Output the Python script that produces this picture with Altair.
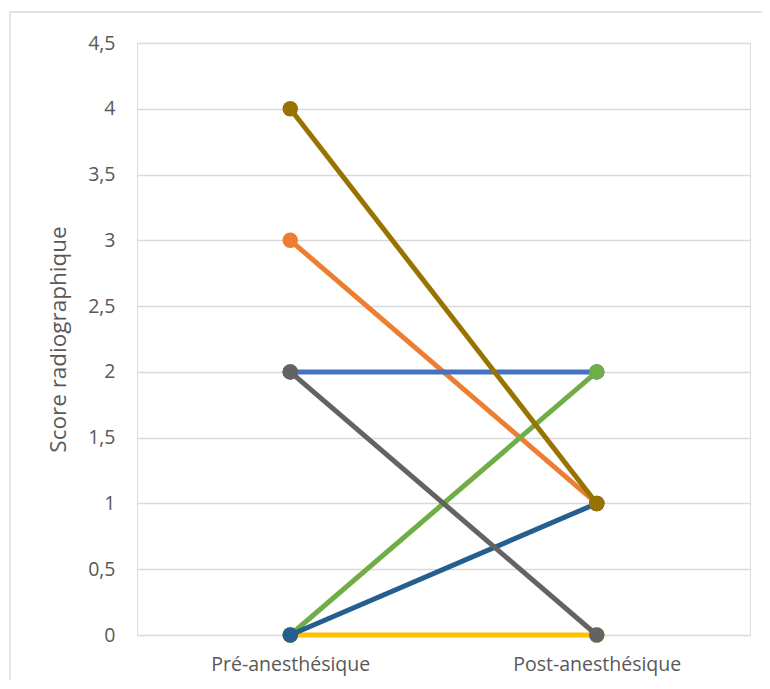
import altair as alt
import pandas as pd

phases = ["Pré-anesthésique", "Post-anesthésique"]
series = ["Série 2", "Série 1", "Série 4", "Série 6", "Série 11", "Série 9", "Série 10"]
pre_scores = [3, 2, 0, 0, 0, 2, 4]
post_scores = [1, 2, 0, 2, 1, 0, 1]
colors = ["#ED7D31", "#4472C4", "#FFC000", "#70AD47", "#255E91", "#636363", "#997300"]
y_ticks = [0, 0.5, 1, 1.5, 2, 2.5, 3, 3.5, 4, 4.5]

rows = []
for i, s in enumerate(series):
    rows.append({"serie": s, "phase": phases[0], "score": pre_scores[i], "ordre": i})
    rows.append({"serie": s, "phase": phases[1], "score": post_scores[i], "ordre": i})
df = pd.DataFrame(rows)

W, H = 613, 592
FONT = "Open Sans"
TXT = "#595959"

x_enc = alt.X("phase:N", sort=phases,
              scale=alt.Scale(type="point", padding=0.5, domain=phases),
              axis=alt.Axis(title=None, labelAngle=0, domain=False, ticks=False,
                            labelPadding=20, labelFontSize=19.5, labelColor=TXT,
                            labelFont=FONT, grid=False))
y_enc = alt.Y("score:Q",
              scale=alt.Scale(domain=[0, 4.5], nice=False),
              axis=alt.Axis(title="Score radiographique", values=y_ticks,
                            labelExpr="replace(toString(datum.value), '.', ',')",
                            domain=False, ticks=False, labelPadding=22,
                            labelFontSize=19.5, labelColor=TXT, labelFont=FONT,
                            titleFontSize=22.5, titleColor=TXT, titleFont=FONT,
                            titleFontWeight="normal", titlePadding=17,
                            gridColor="#d9d9d9", gridWidth=1.3))
color_scale = alt.Scale(domain=series, range=colors)

border = alt.Chart(pd.DataFrame({"a": [0]})).mark_rect(
    fill=None, stroke="#d9d9d9", strokeWidth=1.3, clip=False
).encode(x=alt.value(10 - 137), x2=alt.value(W + 40),
         y=alt.value(12 - 43), y2=alt.value(H + 80))

layers = [border]
for i, s in enumerate(series):
    d = df[df["serie"] == s]
    base = alt.Chart(d).encode(
        x=x_enc, y=y_enc,
        color=alt.Color("serie:N", scale=color_scale, legend=None))
    layers.append(base.mark_line(strokeWidth=5))
    layers.append(base.mark_point(filled=True, size=240, opacity=1, shape="circle"))

chart = alt.layer(*layers).properties(
    width=W, height=H,
    autosize=alt.AutoSizeParams(type="none"),
    padding={"left": 129, "top": 35, "right": 12, "bottom": 45},
).configure_view(stroke=None).configure(background="white")

chart.save("out.html", embed_options={"renderer": "svg", "actions": False})
